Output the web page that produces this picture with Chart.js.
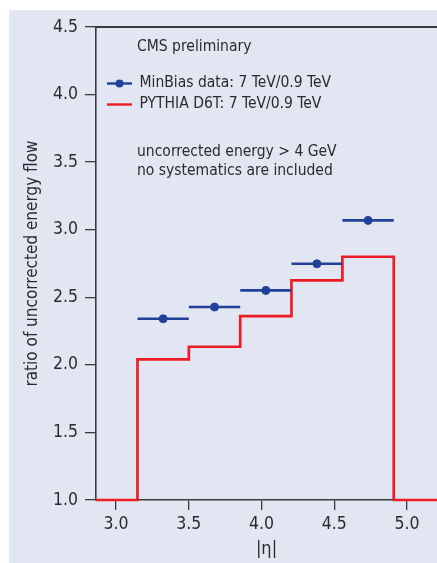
<!DOCTYPE html>
<html>
<head>
<meta charset="utf-8">
<script src="https://cdn.jsdelivr.net/npm/chart.js@4.4.1/dist/chart.umd.min.js"></script>
<style>
  html, body { margin: 0; padding: 0; background: #ffffff; }
  #wrap { position: relative; width: 437px; height: 563px; }
</style>
</head>
<body>
<div id="wrap"><canvas id="c" width="437" height="563"></canvas></div>
<script>
// |eta| bin edges of the forward calorimeter rings
const binEdges = [3.148, 3.501, 3.854, 4.206, 4.556, 4.909];
// measured ratio 7 TeV / 0.9 TeV, one value per bin
const dataRatio = [2.341, 2.428, 2.551, 2.748, 3.069];
// PYTHIA D6T prediction, one value per bin
const mcRatio = [2.041, 2.134, 2.361, 2.625, 2.800];
// histogram level outside the filled bins
const mcOutside = 1.0;
// axis ranges and tick labels
const xRange = [2.863, 5.206];
const yRange = [1.0, 4.5];
const xTicks = [3.0, 3.5, 4.0, 4.5, 5.0];
const yTicks = [1.0, 1.5, 2.0, 2.5, 3.0, 3.5, 4.0, 4.5];

const FONT = "'Liberation Sans Narrow', 'DejaVu Sans Condensed', 'Liberation Sans', sans-serif";
const BLUE = '#22409a';
const RED = '#ee1d25';
const INK = '#2b2b2b';
const PANEL = '#e2e6f3';

// step histogram points (stepped 'before'): each point opens a bin
const mcPoints = [{ x: xRange[0] - 0.01, y: mcOutside }];
binEdges.slice(0, -1).forEach((e, i) => mcPoints.push({ x: e, y: mcRatio[i] }));
mcPoints.push({ x: binEdges[binEdges.length - 1], y: mcOutside });
mcPoints.push({ x: xRange[1] + 0.01, y: mcOutside });

// data markers at bin centres
const dataPoints = dataRatio.map((v, i) => ({ x: (binEdges[i] + binEdges[i + 1]) / 2, y: v }));

const panelBg = {
  id: 'panelBg',
  beforeDraw(chart) {
    const { ctx, width, height } = chart;
    ctx.save();
    ctx.fillStyle = PANEL;
    ctx.fillRect(9, 10, width - 9, height - 10);
    ctx.restore();
  }
};

// horizontal bars spanning each bin for the data series
const binBars = {
  id: 'binBars',
  afterDatasetsDraw(chart) {
    const { ctx, scales: { x, y } } = chart;
    ctx.save();
    ctx.strokeStyle = BLUE;
    ctx.lineWidth = 2.6;
    dataRatio.forEach((v, i) => {
      const py = y.getPixelForValue(v);
      ctx.beginPath();
      ctx.moveTo(x.getPixelForValue(binEdges[i]), py);
      ctx.lineTo(x.getPixelForValue(binEdges[i + 1]), py);
      ctx.stroke();
    });
    ctx.restore();
  }
};

// frame line along the top, legend and notes
const annotations = {
  id: 'annotations',
  afterDraw(chart) {
    const { ctx, chartArea: a } = chart;
    ctx.save();
    ctx.strokeStyle = '#3a3a3a';
    ctx.lineWidth = 2;
    ctx.beginPath();
    ctx.moveTo(a.left - 1, a.top);
    ctx.lineTo(chart.width, a.top);
    ctx.stroke();

    ctx.fillStyle = INK;
    ctx.font = '15.5px ' + FONT;
    ctx.textBaseline = 'middle';
    ctx.textAlign = 'left';
    const tx = a.left + 41;
    ctx.fillText('CMS preliminary', tx, 47);

    // legend
    ctx.lineWidth = 2.4;
    ctx.strokeStyle = BLUE;
    ctx.beginPath(); ctx.moveTo(a.left + 11, 83.5); ctx.lineTo(a.left + 36, 83.5); ctx.stroke();
    ctx.fillStyle = BLUE;
    ctx.beginPath(); ctx.arc(a.left + 23.5, 83.5, 4, 0, Math.PI * 2); ctx.fill();
    ctx.strokeStyle = RED;
    ctx.beginPath(); ctx.moveTo(a.left + 11, 104.5); ctx.lineTo(a.left + 36, 104.5); ctx.stroke();
    ctx.fillStyle = INK;
    ctx.fillText('MinBias data: 7 TeV/0.9 TeV', a.left + 43.5, 83);
    ctx.fillText('PYTHIA D6T: 7 TeV/0.9 TeV', a.left + 43.5, 103.5);

    ctx.fillText('uncorrected energy > 4 GeV', tx, 151.5);
    ctx.fillText('no systematics are included', tx, 171);
    ctx.restore();
  }
};

new Chart(document.getElementById('c'), {
  data: {
    datasets: [
      {
        type: 'line',
        label: 'PYTHIA D6T: 7 TeV/0.9 TeV',
        data: mcPoints,
        stepped: 'before',
        borderColor: RED,
        borderWidth: 2.7,
        pointRadius: 0,
        fill: false,
        clip: { left: 0, top: 0, right: 0, bottom: 3 },
        order: 2
      },
      {
        type: 'scatter',
        label: 'MinBias data: 7 TeV/0.9 TeV',
        data: dataPoints,
        backgroundColor: BLUE,
        borderColor: BLUE,
        pointRadius: 4,
        pointHoverRadius: 4,
        order: 1
      }
    ]
  },
  plugins: [panelBg, binBars, annotations],
  options: {
    responsive: false,
    devicePixelRatio: 1,
    animation: false,
    events: [],
    layout: { autoPadding: false, padding: { top: 27, right: 0, left: 0, bottom: 0 } },
    plugins: { legend: { display: false }, tooltip: { enabled: false } },
    scales: {
      x: {
        type: 'linear',
        min: xRange[0],
        max: xRange[1],
        afterBuildTicks: (s) => { s.ticks = xTicks.map(v => ({ value: v })); },
        afterFit: (s) => { s.height = 63; },
        ticks: {
          color: INK,
          font: { family: FONT, size: 17.5 },
          padding: 4,
          maxRotation: 0,
          callback: (v) => v.toFixed(1)
        },
        grid: { display: true, drawOnChartArea: false, drawTicks: true, tickLength: 10, color: '#3a3a3a', lineWidth: 1.3 },
        border: { display: true, color: '#3a3a3a', width: 1.6 },
        title: { display: true, text: '|η|', color: INK, font: { family: FONT, size: 18 }, padding: { top: 0, bottom: 3 } }
      },
      y: {
        type: 'linear',
        min: yRange[0],
        max: yRange[1],
        afterBuildTicks: (s) => { s.ticks = yTicks.map(v => ({ value: v })); },
        afterFit: (s) => { s.width = 96; },
        ticks: {
          color: INK,
          font: { family: FONT, size: 17.5 },
          padding: 7,
          callback: (v) => v.toFixed(1)
        },
        grid: { display: true, drawOnChartArea: false, drawTicks: true, tickLength: 11, color: '#3a3a3a', lineWidth: 1.3 },
        border: { display: true, color: '#3a3a3a', width: 1.6 },
        title: { display: true, text: 'ratio of uncorrected energy flow', color: INK, font: { family: FONT, size: 17 }, padding: { top: 22, bottom: 0 } }
      }
    }
  }
});
</script>
</body>
</html>
